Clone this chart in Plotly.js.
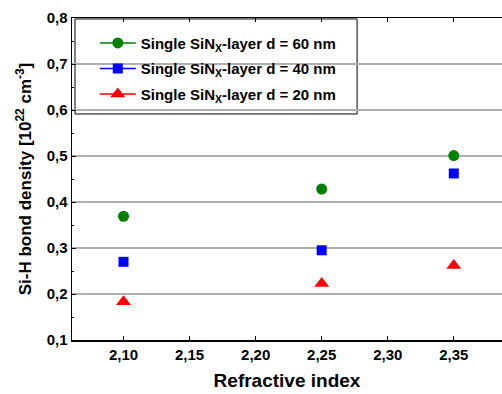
<!DOCTYPE html>
<html><head><meta charset="utf-8">
<script src="https://cdn.plot.ly/plotly-3.0.1.min.js"></script>
<style>html,body{margin:0;padding:0;background:#fff}</style>
</head><body>
<div id="chart" style="width:502px;height:394px"></div>
<script>
const refractiveIndex = [2.10, 2.25, 2.35];
const density60 = [0.369, 0.428, 0.501];
const density40 = [0.270, 0.295, 0.462];
const density20 = [0.183, 0.223, 0.262];
const seriesNames = [
  'Single SiN<sub>X</sub>-layer d = 60 nm',
  'Single SiN<sub>X</sub>-layer d = 40 nm',
  'Single SiN<sub>X</sub>-layer d = 20 nm'
];
const colors = ['#008000', '#0000ff', '#ff0000'];
const symbols = ['circle', 'square', 'triangle-up'];
const sizes = [11, 10, 13];
const series = [density60, density40, density20];

const FONT = 'Liberation Sans, Arial, sans-serif';
const traces = [];
series.forEach((ys, i) => {
  traces.push({
    x: refractiveIndex, y: ys, type: 'scatter', mode: 'markers',
    showlegend: false,
    marker: {color: colors[i], symbol: symbols[i], size: sizes[i]}
  });
});
series.forEach((ys, i) => {
  traces.push({
    x: [null], y: [null], type: 'scatter', mode: 'lines+markers',
    name: seriesNames[i], showlegend: true, legendgroup: 'g' + i,
    line: {color: colors[i], width: 1.5},
    marker: {color: colors[i], symbol: symbols[i], size: sizes[i]}
  });
});

const layout = {
  width: 502, height: 394,
  margin: {l: 72, r: 0, t: 18, b: 54},
  paper_bgcolor: '#fff', plot_bgcolor: '#fff',
  separators: ',.',
  font: {family: FONT, size: 15, color: '#000', weight: 'bold'},
  xaxis: {
    range: [2.061, 2.3865],
    tickvals: [2.10, 2.15, 2.20, 2.25, 2.30, 2.35, 2.40],
    tickformat: '.2f',
    ticks: 'inside', ticklen: 4, tickwidth: 1, tickcolor: '#000',
    showline: true, linecolor: '#000', linewidth: 1.5, mirror: 'ticks',
    showgrid: false, zeroline: false,
    tickfont: {family: FONT, size: 15, weight: 'bold'},
    title: {text: 'Refractive index', font: {family: FONT, size: 19, weight: 'bold'}, standoff: 12}
  },
  yaxis: {
    range: [0.1, 0.8],
    dtick: 0.1, tickformat: '.1f',
    ticks: 'inside', ticklen: 4, tickwidth: 1, tickcolor: '#000',
    minor: {dtick: 0.05, ticks: 'inside', ticklen: 2, tickcolor: '#000', showgrid: false},
    showline: true, linecolor: '#000', linewidth: 1.5,
    showgrid: true, gridcolor: '#b0b0b0', gridwidth: 1.2,
    zeroline: false,
    tickfont: {family: FONT, size: 15, weight: 'bold'},
    title: {text: 'Si-H bond density [10<sup>22</sup> cm<sup>-3</sup>]', font: {family: FONT, size: 17, weight: 'bold'}, standoff: 10}
  },
  shapes: [{
    type: 'rect', xref: 'paper', yref: 'paper', layer: 'between',
    x0: 0.007, x1: 0.663, y0: 0.702, y1: 0.997,
    line: {color: '#000', width: 1}, fillcolor: '#fff'
  }],
  legend: {
    x: 0.053, y: 0.973, xanchor: 'left', yanchor: 'top',
    bgcolor: 'rgba(0,0,0,0)', borderwidth: 0,
    font: {family: FONT, size: 15, weight: 'bold'},
    tracegroupgap: 3, itemwidth: 36
  }
};
Plotly.newPlot('chart', traces, layout, {displayModeBar: false, staticPlot: true});
</script>
</body></html>
